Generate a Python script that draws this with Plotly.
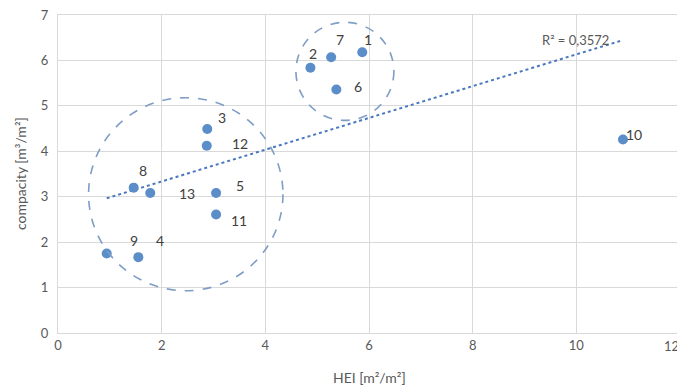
import numpy as np
import plotly.graph_objects as go

labels = ["1", "2", "3", "4", "5", "6", "7", "8", "9", "10", "11", "12", "13"]
hei = [5.87, 4.87, 2.88, 1.55, 3.05, 5.37, 5.27, 1.46, 0.94, 10.90, 3.05, 2.87, 1.78]
compacity = [6.18, 5.84, 4.49, 1.67, 3.08, 5.36, 6.07, 3.20, 1.75, 4.26, 2.61, 4.12, 3.08]

# label pixel offsets (x, y) relative to the point
label_dx = [6, 3, 15, 22, 24, 22, 9, 9, 27, 11, 23, 33, 37]
label_dy = [13, 14, 12, 17, 8, 3, 18, 17, 13, 5, -6, 2, 0]

# cluster outlines (x0, x1, y0, y1 in data units)
clusters = [(0.59, 4.34, 0.93, 5.18), (4.59, 6.48, 4.68, 6.84)]

x_ticks = [0, 2, 4, 6, 8, 10, 12]
y_ticks = [0, 1, 2, 3, 4, 5, 6, 7]

FONT = "Lato, 'Liberation Sans', sans-serif"

fig = go.Figure()

# linear trendline from least squares
xa = np.array(hei)
ya = np.array(compacity)
slope, intercept = np.polyfit(xa, ya, 1)
xt = np.array([xa.min(), xa.max()])
fig.add_trace(go.Scatter(x=xt, y=slope * xt + intercept, mode="lines",
                         line=dict(color="#4a78c0", width=2, dash="dot"),
                         hoverinfo="skip", showlegend=False))

fig.add_trace(go.Scatter(x=hei, y=compacity, mode="markers",
                         marker=dict(color="#5b8dc9", size=10),
                         showlegend=False))

for lab, x, y, dx, dy in zip(labels, hei, compacity, label_dx, label_dy):
    fig.add_annotation(x=x, y=y, text=lab, showarrow=False, xshift=dx, yshift=dy,
                       font=dict(family=FONT, size=14, color="#404040"))

fig.add_annotation(x=9.99, y=6.45, text="R² = 0,3572", showarrow=False,
                   font=dict(family=FONT, size=13, color="#595959"))

for x0, x1, y0, y1 in clusters:
    fig.add_shape(type="circle", xref="x", yref="y", x0=x0, x1=x1, y0=y0, y1=y1,
                  line=dict(color="#7f9dc6", width=1.6, dash="dash"))

# axis titles
fig.add_annotation(xref="paper", yref="paper", x=0.5, y=0, yshift=-44, yanchor="middle",
                   text="HEI [m²/m²]", showarrow=False,
                   font=dict(family=FONT, size=14, color="#595959"))
fig.add_annotation(xref="paper", yref="paper", x=0, y=0.5, xshift=-38, xanchor="center",
                   yanchor="middle", textangle=-90, text="compacity [m³/m²]", showarrow=False,
                   font=dict(family=FONT, size=14, color="#595959"))

# last x tick label drawn right-anchored so it stays inside the window
x_ticktext = [str(v) for v in x_ticks[:-1]] + [""]
fig.add_annotation(x=x_ticks[-1], y=0, xref="x", yref="paper", text=str(x_ticks[-1]),
                   showarrow=False, xanchor="right", yanchor="top", xshift=1, yshift=-3,
                   font=dict(family=FONT, size=13, color="#595959"))

# the page body adds an 8px offset, so the figure is sized to fit the window
fig.update_layout(
    width=677, height=379,
    margin=dict(l=50, r=5, t=7, b=54),
    paper_bgcolor="white", plot_bgcolor="white",
    font=dict(family=FONT, size=13, color="#595959"),
)
fig.update_xaxes(range=[0, 12], tickvals=x_ticks, ticktext=x_ticktext, showgrid=True,
                 gridcolor="#d9d9d9", gridwidth=1, zeroline=False, showline=True,
                 linecolor="#d9d9d9", mirror=True, ticks="", automargin=False,
                 tickfont=dict(size=13, color="#595959"))
fig.update_yaxes(range=[0, 7], tickvals=y_ticks, showgrid=True, gridcolor="#d9d9d9",
                 gridwidth=1, zeroline=False, showline=True, linecolor="#d9d9d9",
                 mirror=True, ticks="", automargin=False, ticklabeloverflow="allow",
                 tickfont=dict(size=13, color="#595959"), ticklabelstandoff=6)

fig.write_html("out.html")
